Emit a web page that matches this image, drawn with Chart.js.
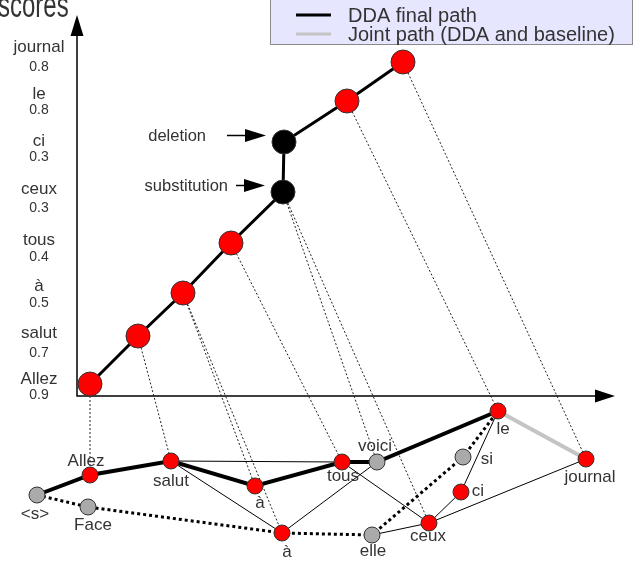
<!DOCTYPE html>
<html>
<head>
<meta charset="utf-8">
<script src="https://cdn.jsdelivr.net/npm/chart.js@4/dist/chart.umd.min.js"></script>
<style>
  html, body { margin: 0; padding: 0; background: #fff; }
  #wrap { width: 641px; height: 565px; position: relative; }
</style>
</head>
<body>
<div id="wrap"><canvas id="chart"></canvas></div>
<script>
// upper plot: words along the vertical axis with their scores
const scoreWords = ['Allez', 'salut', 'à', 'tous', 'ceux', 'ci', 'le', 'journal'];
const scoreValues = ['0.9', '0.7', '0.5', '0.4', '0.3', '0.3', '0.8', '0.8'];
const wordLabelY = [379, 333, 286, 240, 189, 141, 94, 47];
const scoreLabelY = [395, 353, 303, 257, 208, 157, 110, 67];
const labelColX = 39;

// DDA path points in the score plane
const pathX = [90, 138, 183, 231, 283, 284, 347, 403];
const pathY = [384, 336, 293, 243, 192, 142, 101, 62];
const pathKind = ['word', 'word', 'word', 'word', 'edit', 'edit', 'word', 'word'];

// edit annotations: text, path point, text right edge, arrow start
const editLabels = ['substitution', 'deletion'];
const editPoint = [4, 5];
const editTextRight = [228, 206];
const editArrowStart = [236, 227];

// axes of the score plane
const axisOrigin = [77, 396];
const axisTop = 15;
const axisRight = 615;

// lattice
const nodeNames = ['<s>', 'Allez', 'Face', 'salut', 'à', 'à', 'tous', 'voici', 'elle', 'ceux', 'ci', 'si', 'le', 'journal'];
const nodeX = [37, 90, 88, 171, 255, 282, 342, 377, 372, 429, 461, 463, 498, 586];
const nodeY = [495, 475, 507, 461, 486, 533, 462, 462, 535, 523, 492, 457, 411, 459];
const nodeOnPath = [false, true, false, true, true, true, true, false, false, true, true, false, true, true];
const nodeLabelX = [35, 86, 93, 171, 260, 287, 343, 375, 373, 428, 478, 487, 503, 590];
const nodeLabelY = [514, 461, 525, 481, 503, 552, 476, 446, 551, 536, 491, 459, 429, 477];

const ddaPath = [0, 1, 3, 4, 6, 7, 12];
const jointPath = [12, 13];
const baselinePath = [0, 2, 5, 8, 11, 12];
const otherEdges = [[3, 6], [3, 5], [5, 7], [6, 9], [8, 9], [9, 10], [10, 12], [9, 13]];
// path point -> lattice node
const projections = [[0, 1], [1, 3], [2, 4], [2, 5], [3, 6], [4, 7], [4, 9], [6, 12], [7, 13]];

const legendItems = ['DDA final path', 'Joint path (DDA and baseline)'];
const legendColors = ['#000000', '#c4c4c4'];

const TEXT = '#333333';
const FONT = '"Liberation Sans", Arial, sans-serif';

function nodePt(i) { return { x: nodeX[i], y: nodeY[i] }; }

const datasets = [];

datasets.push({
  label: 'lattice nodes',
  data: nodeNames.map(function (_, i) { return nodePt(i); }),
  showLine: false,
  pointRadius: 8,
  pointBackgroundColor: nodeOnPath.map(function (p) { return p ? '#ff0000' : '#aaaaaa'; }),
  pointBorderColor: '#333333',
  pointBorderWidth: 1,
  order: 0
});

datasets.push({
  label: 'score path',
  data: pathX.map(function (x, i) { return { x: x, y: pathY[i] }; }),
  showLine: true,
  borderColor: '#000000',
  borderWidth: 3,
  pointRadius: 12,
  pointBackgroundColor: pathKind.map(function (k) { return k === 'edit' ? '#000000' : '#ff0000'; }),
  pointBorderColor: '#333333',
  pointBorderWidth: 1,
  order: 1
});

datasets.push({
  label: 'dda', data: ddaPath.map(nodePt), showLine: true,
  borderColor: '#000000', borderWidth: 4, pointRadius: 0, order: 2
});
datasets.push({
  label: 'joint', data: jointPath.map(nodePt), showLine: true,
  borderColor: '#c4c4c4', borderWidth: 4, pointRadius: 0, order: 2
});
datasets.push({
  label: 'baseline', data: baselinePath.map(nodePt), showLine: true,
  borderColor: '#000000', borderWidth: 3, borderDash: [3, 3], borderCapStyle: 'butt',
  pointRadius: 0, order: 3
});
otherEdges.forEach(function (e) {
  datasets.push({
    label: 'edge', data: [nodePt(e[0]), nodePt(e[1])], showLine: true,
    borderColor: '#000000', borderWidth: 1, pointRadius: 0, order: 4
  });
});
projections.forEach(function (p) {
  datasets.push({
    label: 'proj', data: [{ x: pathX[p[0]], y: pathY[p[0]] }, nodePt(p[1])], showLine: true,
    borderColor: '#222222', borderWidth: 1, borderDash: [2, 2], pointRadius: 0, order: 5
  });
});
datasets.push({
  label: 'axes',
  data: [{ x: axisOrigin[0], y: axisTop + 18 }, { x: axisOrigin[0], y: axisOrigin[1] }, { x: axisRight - 18, y: axisOrigin[1] }],
  showLine: true, borderColor: '#000000', borderWidth: 1.5, pointRadius: 0, order: 6
});

const decorPlugin = {
  id: 'decor',
  afterDatasetsDraw: function (chart) {
    const ctx = chart.ctx;
    const xs = chart.scales.x;
    const ys = chart.scales.y;
    function px(v) { return xs.getPixelForValue(v); }
    function py(v) { return ys.getPixelForValue(v); }
    ctx.save();
    ctx.fillStyle = '#000000';

    // axis arrowheads
    const ox = px(axisOrigin[0]), oy = py(axisOrigin[1]);
    ctx.beginPath();
    ctx.moveTo(ox, py(axisTop));
    ctx.lineTo(ox - 6.5, py(axisTop) + 21);
    ctx.lineTo(ox + 6.5, py(axisTop) + 21);
    ctx.closePath();
    ctx.fill();
    ctx.beginPath();
    ctx.moveTo(px(axisRight), oy);
    ctx.lineTo(px(axisRight) - 20, oy - 6.5);
    ctx.lineTo(px(axisRight) - 20, oy + 6.5);
    ctx.closePath();
    ctx.fill();

    // edit annotations with arrows
    ctx.font = '16.5px ' + FONT;
    ctx.textBaseline = 'middle';
    editLabels.forEach(function (label, i) {
      const tip = px(pathX[editPoint[i]]) - 18;
      const ty = py(pathY[editPoint[i]]) - 6.5;
      ctx.strokeStyle = '#000000';
      ctx.fillStyle = '#000000';
      ctx.lineWidth = 1.5;
      ctx.beginPath();
      ctx.moveTo(px(editArrowStart[i]), ty);
      ctx.lineTo(tip - 18, ty);
      ctx.stroke();
      ctx.beginPath();
      ctx.moveTo(tip, ty);
      ctx.lineTo(tip - 21, ty - 6.5);
      ctx.lineTo(tip - 21, ty + 6.5);
      ctx.closePath();
      ctx.fill();
      ctx.fillStyle = TEXT;
      ctx.textAlign = 'right';
      ctx.fillText(label, px(editTextRight[i]), ty + 1);
    });

    // axis word labels and scores
    ctx.fillStyle = TEXT;
    ctx.textAlign = 'center';
    scoreWords.forEach(function (w, i) {
      ctx.font = '17px ' + FONT;
      ctx.fillText(w, px(labelColX), py(wordLabelY[i]));
      ctx.font = '14px ' + FONT;
      ctx.fillText(scoreValues[i], px(labelColX), py(scoreLabelY[i]));
    });

    // axis title, drawn stretched and cut by the top edge like the source figure
    ctx.save();
    ctx.translate(px(-2), py(16.5));
    ctx.scale(1, 1.45);
    ctx.font = '24px ' + FONT;
    ctx.textAlign = 'left';
    ctx.textBaseline = 'alphabetic';
    ctx.fillText('scores', 0, 0);
    ctx.restore();

    // lattice labels
    ctx.font = '17px ' + FONT;
    ctx.textAlign = 'center';
    ctx.textBaseline = 'middle';
    nodeNames.forEach(function (n, i) {
      ctx.fillText(n, px(nodeLabelX[i]), py(nodeLabelY[i]));
    });
    ctx.restore();
  },
  afterDraw: function (chart) {
    const ctx = chart.ctx;
    const xs = chart.scales.x;
    const ys = chart.scales.y;
    ctx.save();
    const bx = xs.getPixelForValue(270), by = ys.getPixelForValue(-2);
    const bw = xs.getPixelForValue(632) - bx, bh = ys.getPixelForValue(44) - by;
    ctx.fillStyle = '#e6e6ff';
    ctx.fillRect(bx, by, bw, bh);
    ctx.strokeStyle = '#8a8a8a';
    ctx.lineWidth = 1;
    ctx.strokeRect(bx + 0.5, by + 0.5, bw, bh);
    ctx.font = '20px ' + FONT;
    ctx.textAlign = 'left';
    ctx.textBaseline = 'middle';
    legendItems.forEach(function (item, i) {
      const y = ys.getPixelForValue(15 + i * 19);
      ctx.strokeStyle = legendColors[i];
      ctx.lineWidth = 3;
      ctx.beginPath();
      ctx.moveTo(xs.getPixelForValue(296), y);
      ctx.lineTo(xs.getPixelForValue(331), y);
      ctx.stroke();
      ctx.fillStyle = TEXT;
      ctx.fillText(item, xs.getPixelForValue(348), y + 1);
    });
    ctx.restore();
  }
};

new Chart(document.getElementById('chart').getContext('2d'), {
  type: 'scatter',
  data: { datasets: datasets },
  options: {
    responsive: true,
    maintainAspectRatio: false,
    animation: false,
    events: [],
    layout: { padding: 0, autoPadding: false },
    scales: {
      x: { type: 'linear', min: 0, max: 641, display: false },
      y: { type: 'linear', min: 0, max: 565, reverse: true, display: false }
    },
    plugins: { legend: { display: false }, tooltip: { enabled: false } }
  },
  plugins: [decorPlugin]
});
</script>
</body>
</html>
